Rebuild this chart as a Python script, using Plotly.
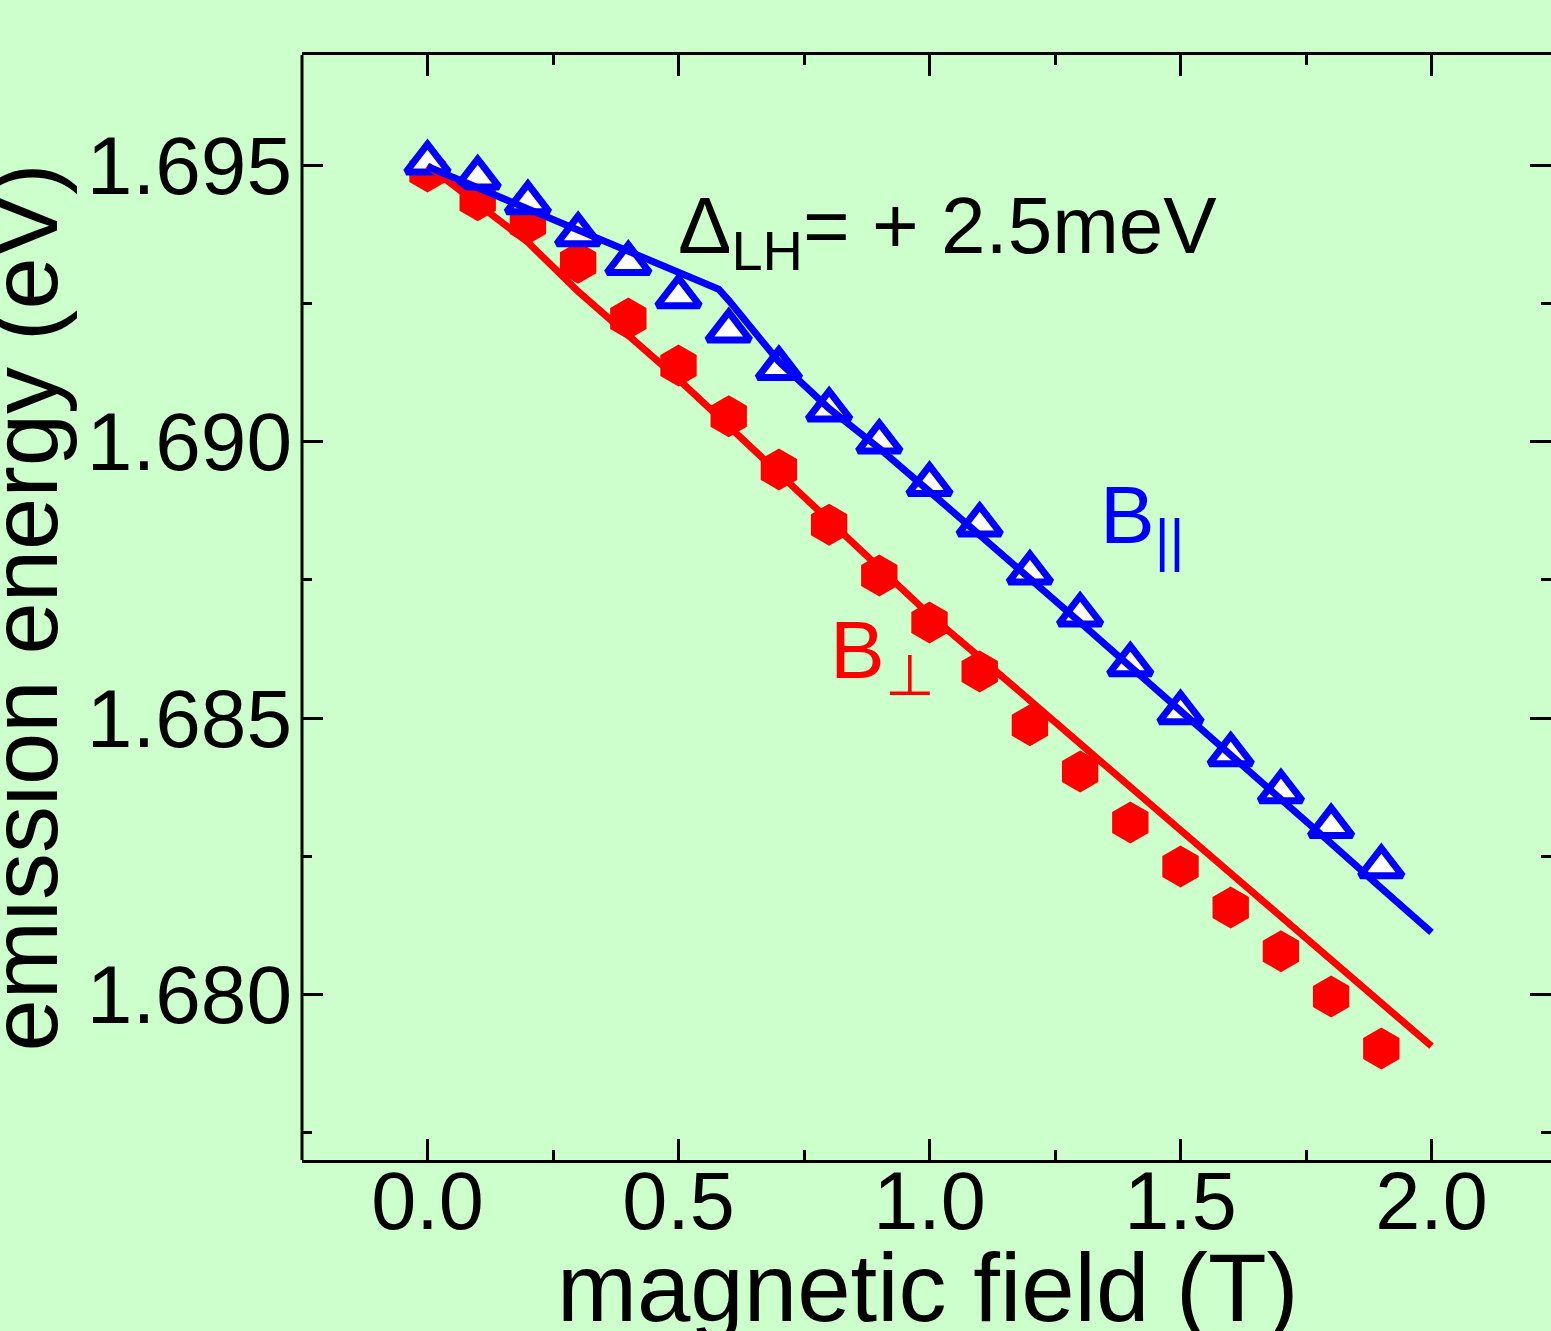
import plotly.graph_objects as go

# ---- data ----
field_pts = [0.0, 0.1, 0.2, 0.3, 0.4, 0.5, 0.6, 0.7, 0.8, 0.9,
             1.0, 1.1, 1.2, 1.3, 1.4, 1.5, 1.6, 1.7, 1.8, 1.9]
E_par = [1.69505, 1.69478, 1.69433, 1.69375, 1.69323, 1.69263, 1.69201, 1.69133, 1.69058, 1.69000,
         1.68923, 1.68850, 1.68763, 1.68687, 1.68597, 1.68510, 1.68434, 1.68367, 1.68304, 1.68231]
E_perp = [1.69489, 1.69437, 1.69395, 1.69324, 1.69223, 1.69138, 1.69046, 1.68950, 1.68850, 1.68758,
          1.68673, 1.68584, 1.68487, 1.68403, 1.68311, 1.68231, 1.68157, 1.68078, 1.67996, 1.67902]

fit_par_B = [0.0, 0.1, 0.2, 0.3, 0.4, 0.5, 0.58, 0.6, 0.7, 0.8, 0.9,
             1.0, 1.1, 1.2, 1.3, 1.4, 1.5, 1.6, 1.7, 1.8, 1.9, 2.0]
fit_par_E = [1.69498, 1.69460, 1.69422, 1.69384, 1.69346, 1.69306, 1.69276, 1.69256, 1.69145, 1.69060, 1.68988,
             1.68910, 1.68832, 1.68753, 1.68673, 1.68593, 1.68514, 1.68434, 1.68353, 1.68273, 1.68192, 1.68112]

fit_perp_B = [0.0, 0.1, 0.2, 0.3, 0.4, 0.5, 0.6, 0.7, 0.8, 0.9,
              1.0, 1.1, 1.2, 1.3, 1.4, 1.5, 1.6, 1.7, 1.8, 1.9, 2.0]
fit_perp_E = [1.69500, 1.69431, 1.69361, 1.69272, 1.69194, 1.69113, 1.69028, 1.68943, 1.68856, 1.68769,
              1.68687, 1.68610, 1.68532, 1.68452, 1.68374, 1.68297, 1.68219, 1.68141, 1.68063, 1.67984, 1.67906]

x_ticks = [0.0, 0.5, 1.0, 1.5, 2.0]
x_ticklabels = ["0.0", "0.5", "1.0", "1.5", "2.0"]
y_ticks = [1.680, 1.685, 1.690, 1.695]
y_ticklabels = ["1.680", "1.685", "1.690", "1.695"]

x_title = "magnetic field (T)"
y_title = "emission energy (eV)"

BLUE = "#0000FF"
RED = "#FF0000"
BG = "#CCFFCC"
FONT = "Liberation Sans, Arial, Helvetica, sans-serif"

fig = go.Figure()

fig.add_trace(go.Scatter(
    x=field_pts, y=E_perp, mode="markers", name="B⊥ data",
    marker=dict(symbol="hexagon", size=42, color=RED, line=dict(width=0)),
    showlegend=False))
fig.add_trace(go.Scatter(
    x=field_pts, y=E_par, mode="markers", name="B∥ data",
    marker=dict(symbol="triangle-up", size=37, color="white",
                line=dict(width=7, color=BLUE)),
    showlegend=False))
fig.add_trace(go.Scatter(
    x=fit_perp_B, y=fit_perp_E, mode="lines", name="B⊥ fit",
    line=dict(color=RED, width=7), showlegend=False))
fig.add_trace(go.Scatter(
    x=fit_par_B, y=fit_par_E, mode="lines", name="B∥ fit",
    line=dict(color=BLUE, width=7), showlegend=False))

fig.add_annotation(x=0.494, y=1.69381, xref="x", yref="y",
                   text="Δ<sub>LH</sub>= + 2.5meV", showarrow=False,
                   xanchor="left", yanchor="middle",
                   font=dict(size=80, color="black", family=FONT))
fig.add_annotation(x=1.335, y=1.68858, xref="x", yref="y",
                   text="B<sub>||</sub>", showarrow=False,
                   xanchor="left", yanchor="middle",
                   font=dict(size=82, color=BLUE, family=FONT))
fig.add_annotation(x=0.797, y=1.68613, xref="x", yref="y",
                   text="B<sub>⊥</sub>", showarrow=False,
                   xanchor="left", yanchor="middle",
                   font=dict(size=82, color=RED, family=FONT))

# axis titles
fig.add_annotation(x=0.5012, y=-0.1158, xref="paper", yref="paper",
                   text=x_title, showarrow=False,
                   xanchor="center", yanchor="middle",
                   font=dict(size=96, color="black", family=FONT))
fig.add_annotation(x=-0.2218, y=0.5, xref="paper", yref="paper",
                   text=y_title, showarrow=False, textangle=-90,
                   xanchor="center", yanchor="middle",
                   font=dict(size=94, color="black", family=FONT))

# left frame line (the right frame line lies outside the picture)
fig.add_shape(type="line", xref="paper", yref="paper", x0=0, x1=0, y0=0, y1=1,
              line=dict(color="black", width=3))

fig.update_layout(
    width=1551, height=1331,
    margin=dict(l=302, r=0, t=55, b=171),
    paper_bgcolor=BG, plot_bgcolor=BG,
    font=dict(family=FONT, color="black"),
    showlegend=False,
)

fig.update_xaxes(
    range=[-0.25, 2.238], automargin=False,
    tickvals=x_ticks, ticktext=x_ticklabels,
    ticks="inside", ticklen=21, tickwidth=3, tickcolor="black",
    minor=dict(dtick=0.25, tick0=0, ticks="inside", ticklen=10, tickwidth=3, tickcolor="black"),
    showline=True, linewidth=3, linecolor="black", mirror="ticks",
    showgrid=False, zeroline=False,
    tickfont=dict(size=81, family=FONT), ticklabelstandoff=-31,
)
fig.update_yaxes(
    range=[1.677, 1.697], automargin=False,
    tickvals=y_ticks, ticktext=y_ticklabels,
    ticks="inside", ticklen=21, tickwidth=3, tickcolor="black",
    minor=dict(dtick=0.0025, tick0=1.68, ticks="inside", ticklen=10, tickwidth=3, tickcolor="black"),
    showline=False, mirror="ticks",
    showgrid=False, zeroline=False,
    tickfont=dict(size=82, family=FONT), ticklabelstandoff=9,
)

fig.write_html("out.html")
